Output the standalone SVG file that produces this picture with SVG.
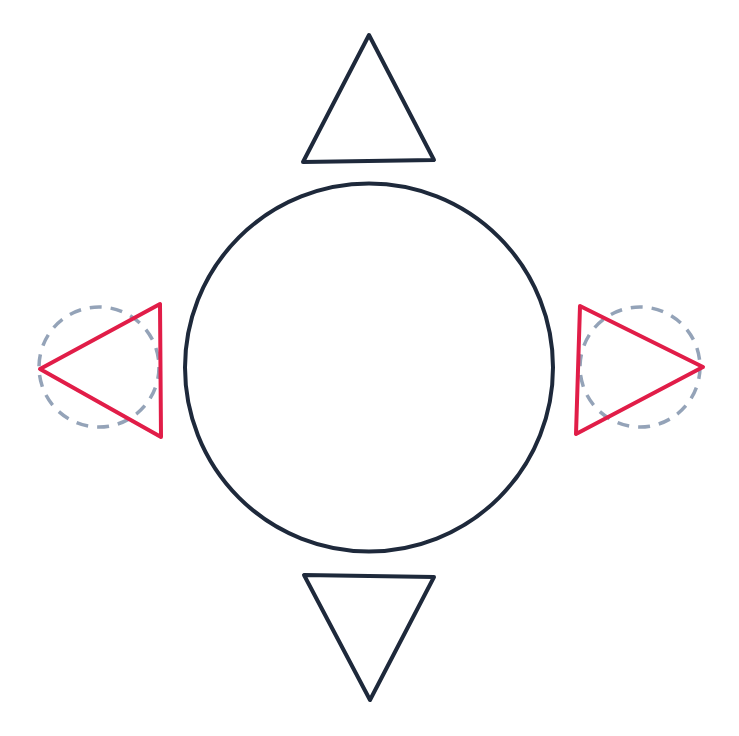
<svg xmlns="http://www.w3.org/2000/svg" width="739" height="736" viewBox="0 0 739 736">
<style>
.dark{fill:none;stroke:#1e293b;stroke-width:4;stroke-linecap:round;stroke-linejoin:round}
.red{fill:none;stroke:#e11d48;stroke-width:4;stroke-linecap:round;stroke-linejoin:round}
.guide{fill:none;stroke:#94a3b8;stroke-width:3.5;stroke-dasharray:12 9}
</style>
<rect width="739" height="736" fill="#ffffff"/>
<g id="guides">
<circle class="guide" cx="99" cy="367" r="60"/>
<circle class="guide" cx="640" cy="367" r="60"/>
</g>
<g id="center-circle">
<circle class="dark" cx="369" cy="367.5" r="184"/>
</g>
<g id="top-triangle">
<polygon class="dark" points="369,35 434,160 303,162"/>
</g>
<g id="bottom-triangle">
<polygon class="dark" points="304,575 434,577 370,700"/>
</g>
<g id="left-triangle">
<polygon class="red" points="40,369 160,304 161,437"/>
</g>
<g id="right-triangle">
<polygon class="red" points="580,306 703,367 576,434"/>
</g>
</svg>
